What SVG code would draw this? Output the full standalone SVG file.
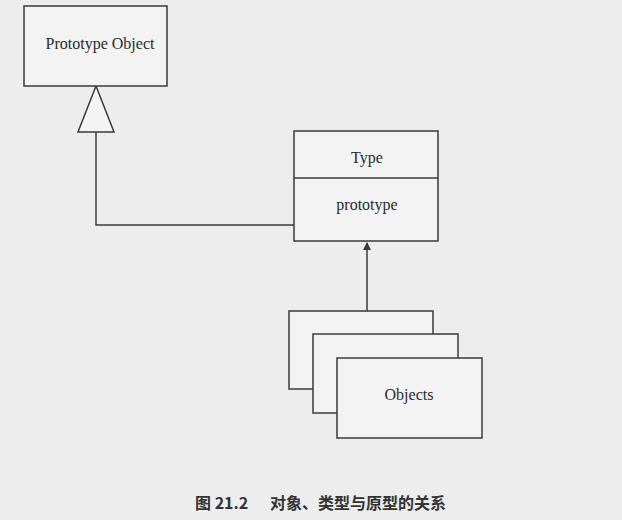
<svg xmlns="http://www.w3.org/2000/svg" width="622" height="520" viewBox="0 0 622 520">
<defs>
<style>
.box{fill:#f3f3f3;stroke:#3a3a3a;stroke-width:1.5}
.lbl{font-family:"Liberation Serif","Times New Roman",serif;font-size:16px;fill:#2a2a2a;text-anchor:middle}
.line{fill:none;stroke:#3a3a3a;stroke-width:1.5}
.cap{font-family:"Noto Sans CJK SC","Noto Sans",sans-serif;font-size:16px;font-weight:bold;fill:#333}
</style>
<marker id="fill" markerWidth="8" markerHeight="8" refX="7" refY="4" orient="auto" markerUnits="userSpaceOnUse">
<path d="M0,0 L8,4 L0,8 Z" fill="#3a3a3a"/>
</marker>
</defs>
<rect width="622" height="520" fill="#ededed"/>
<g id="connectors">
<path class="line" d="M294,225 H96 V132"/>
<polygon class="line" points="96,86 78,132 114,132" style="fill:#f3f3f3"/>
<path class="line" d="M367,318 V243" marker-end="url(#fill)"/>
</g>
<g id="prototype-object">
<rect class="box" x="24" y="6" width="143" height="80"/>
<text class="lbl" x="100" y="49">Prototype Object</text>
</g>
<g id="type">
<rect class="box" x="294" y="131" width="144" height="110"/>
<line class="line" x1="294" y1="178" x2="438" y2="178"/>
<text class="lbl" x="367" y="163">Type</text>
<text class="lbl" x="367" y="210">prototype</text>
</g>
<g id="objects">
<rect class="box" x="289" y="311" width="144" height="78"/>
<rect class="box" x="313" y="334" width="145" height="79"/>
<rect class="box" x="337" y="358" width="145" height="80"/>
<text class="lbl" x="409" y="400">Objects</text>
</g>
<text class="cap" y="509"><tspan x="195">图 21.2</tspan><tspan x="270">对象、类型与原型的关系</tspan></text>
</svg>
